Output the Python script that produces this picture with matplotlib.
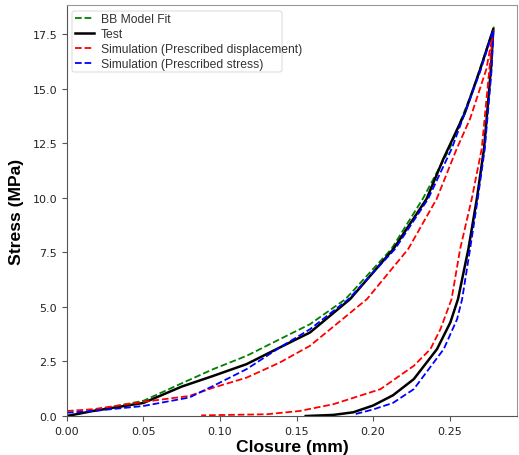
import matplotlib
matplotlib.use("Agg")
import matplotlib.pyplot as plt
from matplotlib.patches import FancyBboxPatch
import numpy as np

# BB model fit (loading only)
bb_closure = [0.0, 0.017, 0.05, 0.075, 0.0956, 0.1174, 0.139, 0.1588, 0.182,
              0.212, 0.2325, 0.25, 0.265, 0.279]
bb_stress = [0.0, 0.25, 0.7, 1.5, 2.15, 2.76, 3.52, 4.21, 5.36,
             7.66, 9.96, 12.26, 14.9, 17.85]

# Test: loading then unloading
test_closure = [0.0, 0.017, 0.05, 0.075, 0.0956, 0.1174, 0.139, 0.1588, 0.185,
                0.2133, 0.235, 0.246, 0.26, 0.27, 0.2786,
                0.277, 0.2725, 0.2678, 0.2623, 0.2555, 0.2505, 0.2418, 0.2266,
                0.213, 0.2, 0.187, 0.174, 0.156]
test_stress = [0.0, 0.23, 0.6, 1.35, 1.84, 2.38, 3.14, 3.83, 5.36,
               7.66, 9.96, 11.8, 13.9, 15.9, 17.75,
               15.9, 12.26, 9.96, 7.66, 5.36, 4.29, 3.07, 1.69,
               0.95, 0.48, 0.17, 0.05, 0.0]

# Simulation, prescribed displacement
disp_closure = [0.0, 0.017, 0.05, 0.08, 0.0956, 0.1174, 0.139, 0.1588, 0.196,
                0.223, 0.2416, 0.2547, 0.2634, 0.274, 0.2786,
                0.276, 0.271, 0.2645, 0.2569, 0.2513, 0.244, 0.2375, 0.2266,
                0.2048, 0.174, 0.152, 0.1305, 0.0877]
disp_stress = [0.23, 0.31, 0.65, 0.92, 1.3, 1.76, 2.45, 3.22, 5.36,
               7.66, 9.96, 12.26, 13.63, 15.9, 17.65,
               15.9, 12.26, 9.96, 7.66, 5.36, 3.98, 3.07, 2.3,
               1.23, 0.54, 0.23, 0.08, 0.03]

# Simulation, prescribed stress
strs_closure = [0.0, 0.017, 0.05, 0.08, 0.0956, 0.1174, 0.139, 0.1588, 0.184,
                0.2144, 0.236, 0.2514, 0.27, 0.2786,
                0.2775, 0.273, 0.2684, 0.2634, 0.2582, 0.2549, 0.2462, 0.2266,
                0.213, 0.2, 0.188]
strs_stress = [0.15, 0.23, 0.46, 0.85, 1.38, 2.15, 3.14, 3.98, 5.36,
               7.66, 9.96, 12.26, 15.8, 17.7,
               15.9, 12.26, 9.96, 7.66, 5.36, 4.44, 3.07, 1.23,
               0.6, 0.3, 0.08]

W, H = 519, 456
fig = plt.figure(figsize=(W / 100, H / 100), dpi=100)
ax = fig.add_axes([0.129, 0.0855, 0.867, 0.9015])

ax.plot(bb_closure, bb_stress, '--', color='g', lw=1.3, label='BB Model Fit')
ax.plot(test_closure, test_stress, '-', color='black', lw=1.8, label='Test')
ax.plot(disp_closure, disp_stress, '--', color='r', lw=1.3,
        label='Simulation (Prescribed displacement)')
ax.plot(strs_closure, strs_stress, '--', color='b', lw=1.3,
        label='Simulation (Prescribed stress)')

ax.set_xlim(0, 0.294)
ax.set_ylim(0, 18.85)
ax.set_xticks([0.0, 0.05, 0.10, 0.15, 0.20, 0.25])
ax.set_yticks(np.arange(0, 17.6, 2.5))

ax.set_xlabel('Closure (mm)', fontsize=12.6, fontweight='bold',
              family='Liberation Sans', labelpad=2)
ax.set_ylabel('Stress (MPa)', fontsize=12.6, fontweight='bold',
              family='Liberation Sans', labelpad=6)

ax.tick_params(labelsize=8, color='#555555', length=3.5, labelcolor='#222222')
for s in ax.spines.values():
    s.set_color('#999999')
ax.spines['left'].set_color('#555555')
ax.spines['bottom'].set_color('#555555')

# legend text without its own frame; the box in the original is narrower than the text
ax.legend(loc='upper left', prop={'family': 'Liberation Sans', 'size': 8.7},
          labelcolor='#333333', frameon=False, borderaxespad=0.35,
          handlelength=1.6, handletextpad=0.55, labelspacing=0.25, borderpad=0.3)
box = FancyBboxPatch((72 / W, 1 - 73 / H), (282 - 72) / W, (73 - 12) / H,
                     boxstyle='round,pad=0,rounding_size=0.005',
                     transform=fig.transFigure, facecolor='white',
                     edgecolor='#dddddd', lw=0.8, zorder=2.5)
ax.add_artist(box)

fig.savefig('out.png', dpi=100)
